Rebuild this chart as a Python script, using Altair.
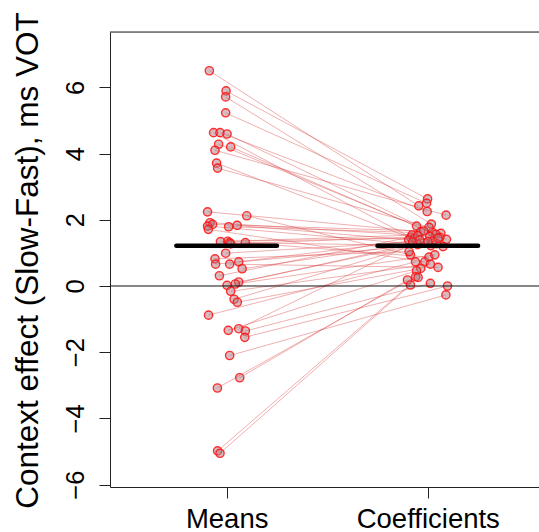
import altair as alt
import pandas as pd

# Values (paired by subject)
means_val = [6.50, 5.89, 5.71, 5.23, 4.63, 4.63, 4.59, 4.28, 4.20, 4.10, 3.71, 3.56,
             2.24, 2.12, 1.91, 1.86, 1.83, 1.81, 1.79, 1.71, 1.35, 1.34, 1.31, 1.31,
             1.27, 0.99, 0.82, 0.73, 0.66, 0.66, 0.52, 0.31, 0.12, 0.06, 0.02, -0.16,
             -0.40, -0.49, -0.88, -1.29, -1.34, -1.36, -1.55, -2.10, -2.77, -3.08, -4.98, -5.05]
means_jit = [-0.086, -0.003, -0.005, -0.005, -0.065, -0.033, 0.002, -0.040, 0.020, -0.058,
             -0.050, -0.045, -0.095, 0.100, -0.083, -0.070, 0.052, -0.095, 0.010, -0.091,
             0.005, -0.031, 0.015, 0.093, 0.020, -0.005, -0.058, 0.060, -0.055, 0.015,
             0.077, -0.036, 0.060, 0.043, 0.002, 0.020, 0.037, 0.053, -0.090, 0.060,
             0.008, 0.093, 0.090, 0.015, 0.065, -0.046, -0.045, -0.033]
coef_val = [2.42, 2.63, 1.87, 2.50, 1.47, 2.25, 1.62, 1.81, 1.41, 2.14, 1.30, 1.77,
            1.64, 0.94, 1.54, 1.66, 1.39, 1.19, 1.59, 0.73, 1.44, 1.56, 1.22, 0.87,
            1.50, 1.33, 1.04, 1.47, 1.28, 0.56, 1.36, 1.52, 1.25, 0.94, 1.44, 0.66,
            1.34, 0.53, 0.73, 1.39, 0.46, 0.08, 0.00, -0.27, 0.18, 0.28, 0.26, 0.03]
coef_jit = [-0.045, -0.001, 0.018, -0.006, -0.085, -0.003, 0.023, -0.056, 0.093, 0.091,
            -0.020, 0.006, -0.035, -0.086, -0.078, -0.020, -0.095, 0.076, 0.065, -0.015,
            -0.065, 0.040, 0.015, 0.006, 0.010, -0.075, -0.093, 0.060, 0.045, 0.051,
            0.025, -0.050, -0.050, 0.035, 0.051, 0.013, 0.001, -0.035, -0.061, -0.040,
            -0.056, 0.013, 0.098, 0.090, -0.101, -0.060, -0.048, -0.086]

group_labels = ["Means", "Coefficients"]
y_ticks = [-6, -4, -2, 0, 2, 4, 6]

rows = []
for i in range(len(means_val)):
    rows.append({"subj": i, "grp": 1, "x": 1 + means_jit[i], "y": means_val[i]})
    rows.append({"subj": i, "grp": 2, "x": 2 + coef_jit[i], "y": coef_val[i]})
df = pd.DataFrame(rows)

half = 0.25
bars = pd.DataFrame({
    "x": [1 - half, 2 - half],
    "x2": [1 + half, 2 + half],
    "y": [sum(means_val) / len(means_val), sum(coef_val) / len(coef_val)],
})
zero = pd.DataFrame({"y": [0]})

W, H = 429, 455
xs = alt.Scale(domain=[0.42, 2.553], nice=False, zero=False)
ys = alt.Scale(domain=[-6.07, 7.67], nice=False, zero=False)

x_axis = alt.Axis(values=[1, 2], labelExpr="datum.value == 1 ? 'Means' : 'Coefficients'",
                  title=None, grid=False, domain=True, domainColor="#222", tickColor="#222",
                  tickSize=11, labelFontSize=27.5, labelFont="Liberation Sans", labelColor="black",
                  labelBaseline="top", labelPadding=7, labelAngle=0)
y_axis = alt.Axis(values=y_ticks, title="Context effect (Slow-Fast), ms VOT", grid=False,
                  domain=True, domainColor="#222", tickColor="#222", tickSize=11,
                  labelFontSize=25.5, labelFont="Liberation Sans", labelColor="black",
                  labelAngle=270, labelAlign="center", labelBaseline="alphabetic",
                  labelPadding=16, titleFontSize=31.5, titleFont="Liberation Sans",
                  titleFontWeight="normal", titleColor="black", titleAngle=270,
                  titleAlign="center", titleBaseline="alphabetic", titleX=-73, titleY=228)

lines = alt.Chart(df).mark_line(color="#d83a3a", strokeWidth=1, opacity=0.4).encode(
    x=alt.X("x:Q", scale=xs, axis=x_axis),
    y=alt.Y("y:Q", scale=ys, axis=y_axis),
    detail="subj:N",
    order="grp:Q",
)
points = alt.Chart(df).mark_point(shape="circle", filled=False, size=68, stroke="#ff1010",
                                  strokeWidth=1.4, strokeOpacity=0.85, fill="#b07880",
                                  fillOpacity=0.5).encode(
    x=alt.X("x:Q", scale=xs),
    y=alt.Y("y:Q", scale=ys),
)
zline = alt.Chart(zero).mark_rule(color="#111", strokeWidth=1).encode(y=alt.Y("y:Q", scale=ys))
mbars = alt.Chart(bars).mark_rule(color="black", strokeWidth=4.5, strokeCap="round").encode(
    x=alt.X("x:Q", scale=xs), x2="x2:Q", y=alt.Y("y:Q", scale=ys))
topline = alt.Chart(zero).mark_rule(color="#222", strokeWidth=1).encode(
    x=alt.value(0), x2=alt.value(W), y=alt.value(0))

chart = alt.layer(lines, points, zline, mbars, topline).properties(
    width=W, height=H,
    autosize=alt.AutoSizeParams(type="none"),
    padding={"left": 110, "top": 32, "right": 0, "bottom": 45},
).configure_view(stroke=None).configure(background="white")

chart.save("out.html", embed_options={"renderer": "svg", "actions": False})
